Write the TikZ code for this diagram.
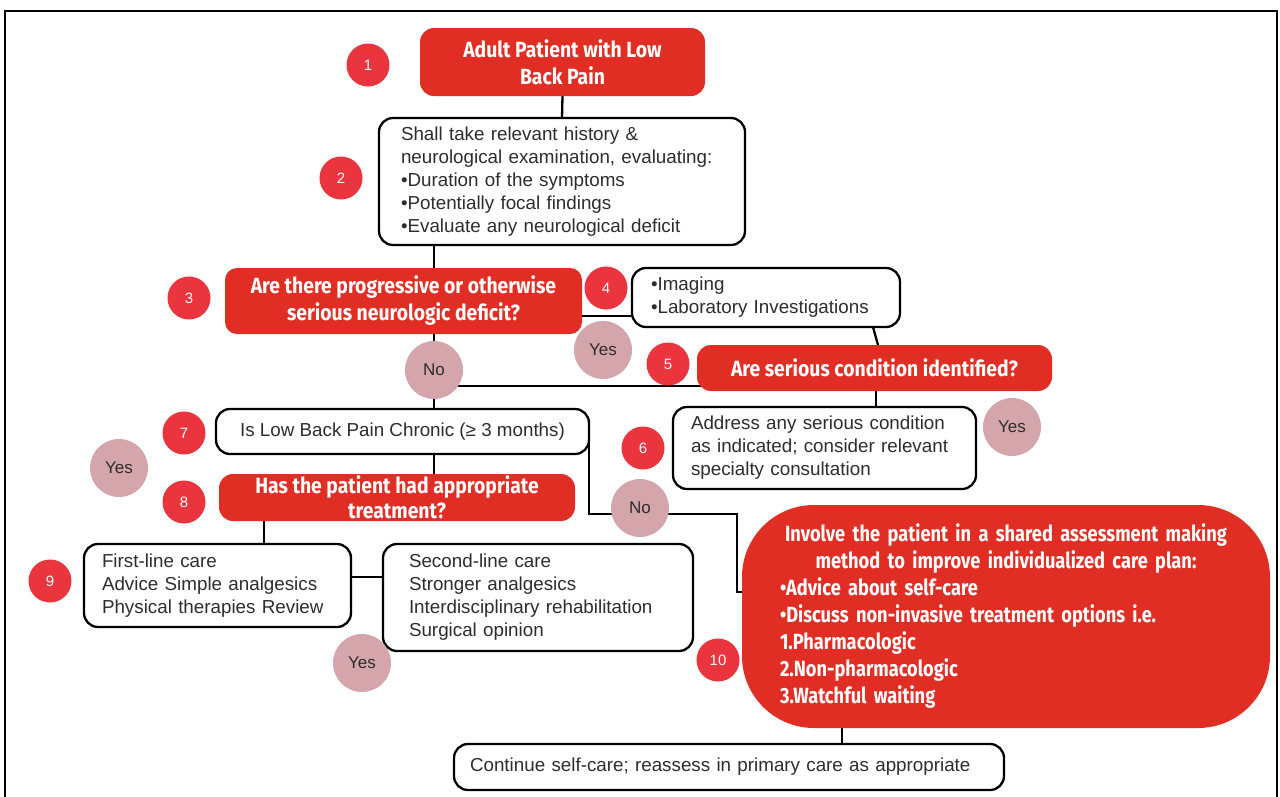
\documentclass[tikz,border=0pt]{standalone}
\usepackage{fontspec}
\setmainfont{Liberation Sans}
\newfontfamily\headfont[FakeStretch=0.88]{Fira Sans}
\newfontfamily\planfont[FakeStretch=0.83]{Fira Sans}
\pgfdeclarelayer{bg}
\pgfsetlayers{bg,main}

\definecolor{boxred}{RGB}{224,46,36}
\definecolor{badgered}{RGB}{234,52,62}
\definecolor{pinkc}{RGB}{212,165,170}
\definecolor{bodytext}{RGB}{45,45,45}

\begin{document}
\begin{tikzpicture}[x=1pt,y=-1pt,
  every node/.style={inner sep=0pt, outer sep=0pt},
  whitebox/.style={draw=black, line width=2.3pt, fill=white, rounded corners=14pt,
    text=bodytext, font=\fontsize{18.8}{23}\selectfont},
  redbox/.style={fill=boxred, rounded corners=14pt, text=white,
    font=\headfont\bfseries\fontsize{22}{27}\selectfont, align=center},
  badge/.style={circle, minimum size=43pt, fill=badgered, text=white,
    font=\fontsize{15}{15}\selectfont},
  answer/.style={circle, fill=pinkc, minimum size=58pt, text=bodytext,
    font=\fontsize{17}{17}\selectfont},
  link/.style={draw=black, line width=2.3pt}
]
\useasboundingbox (0,0) rectangle (1280,796);

% boxes
\node[redbox, minimum width=285pt, minimum height=68pt] (n1) at (562.5,62)
  {Adult Patient with Low\\Back Pain};
\node[whitebox, minimum width=366pt, minimum height=127pt, text width=322pt, align=left] (n2) at (562,181.5)
  {Shall take relevant history \&\\neurological examination, evaluating:\\•Duration of the symptoms\\•Potentially focal findings\\•Evaluate any neurological deficit};
\node[redbox, minimum width=357pt, minimum height=66pt, rounded corners=12pt] (n3) at (403.5,301)
  {Are there progressive or otherwise\\serious neurologic deficit?};
\node[whitebox, minimum width=268pt, minimum height=59pt, text width=230pt, align=left] (n4) at (766,297.5)
  {•Imaging\\•Laboratory Investigations};
\node[redbox, minimum width=355pt, minimum height=46pt] (n5) at (874.5,368)
  {Are serious condition identified?};
\node[whitebox, minimum width=303pt, minimum height=82pt, text width=267pt, align=left] (n6) at (824.5,448)
  {Address any serious condition\\as indicated; consider relevant\\specialty consultation};
\node[whitebox, minimum width=373pt, minimum height=45pt, align=center] (n7) at (402.5,431.5)
  {Is Low Back Pain Chronic (≥ 3 months)};
\node[redbox, minimum width=356pt, minimum height=47pt, font=\headfont\bfseries\fontsize{22}{25}\selectfont] (n8) at (397,497.5)
  {Has the patient had appropriate\\treatment?};
\node[whitebox, minimum width=267pt, minimum height=83pt, text width=231pt, align=left] (n9) at (217.5,585.5)
  {First-line care\\Advice Simple analgesics\\Physical therapies Review};
\node[whitebox, minimum width=310pt, minimum height=107pt, text width=258pt, align=left] (n9b) at (538,597.5)
  {Second-line care\\Stronger analgesics\\Interdisciplinary rehabilitation\\Surgical opinion};
\node[redbox, minimum width=528pt, minimum height=223pt, rounded corners=72pt, text width=452pt, align=left,
      font=\planfont\bfseries\fontsize{22}{27}\selectfont] (n10) at (1006,616.5)
  {\makebox[\linewidth][c]{Involve the patient in a shared assessment making}\\
   \makebox[\linewidth][c]{method to improve individualized care plan:}\\
   •Advice about self-care\\
   •Discuss non-invasive treatment options i.e.\\
   1.Pharmacologic\\
   2.Non-pharmacologic\\
   3.Watchful waiting};
\node[whitebox, minimum width=550pt, minimum height=46pt, text width=518pt, align=left] (n11) at (729,767)
  {Continue self-care; reassess in primary care as appropriate};

% connectors, drawn underneath the boxes
\coordinate (spine) at (434,0);
\coordinate (y34) at (0,316);
\coordinate (c4a) at (873,0);
\coordinate (c5a) at (878,0);
\coordinate (y5) at (0,386);
\coordinate (x56) at (876,0);
\coordinate (j1) at (589,514);
\coordinate (j2) at (737,592);
\coordinate (x89) at (264,0);
\coordinate (y99) at (0,577);
\coordinate (x1011) at (842,0);
\begin{pgfonlayer}{bg}
\fill[white] (0,0) rectangle (1280,796);
\draw[line width=2.5pt] (5,805) -- (5,11) -- (1277,11) -- (1277,805);
\draw[link] (n1.south) -- (n2.north);
\draw[link] (spine |- n2.south) -- (spine |- n3.north);
\draw[link] (spine |- n3.south) -- (spine |- n7.north);
\draw[link] (n3.east |- y34) -- (n4.west |- y34);
\draw[link] (c4a |- n4.south) -- (c5a |- n5.north);
\draw[link] (spine |- y5) -- (n5 |- y5);
\draw[link] (x56 |- n5.south) -- (x56 |- n6.north);
\draw[link] (spine |- n7.south) -- (spine |- n8.north);
\draw[link] (n7.east) -- (n7.east |- j1) -- (j1) -- (j1 -| j2) -- (j2) -- (n10 |- j2);
\draw[link] (x89 |- n8.south) -- (x89 |- n9.north);
\draw[link] (n9.east |- y99) -- (n9b.west |- y99);
\draw[link] (x1011 |- n10.south) -- (x1011 |- n11.north);
\end{pgfonlayer}

% step numbers
\node[badge] (b1) at (368,65) {1};
\node[badge] (b2) at (341,178) {2};
\node[badge] (b3) at (189,298) {3};
\node[badge] (b4) at (606,288) {4};
\node[badge] (b5) at (668,364) {5};
\node[badge] (b6) at (643,448) {6};
\node[badge] (b7) at (184,433) {7};
\node[badge] (b8) at (184,502) {8};
\node[badge] (b9) at (50,581) {9};
\node[badge] (b10) at (718,660) {10};

% answers
\node[answer] (a1) at (603,350) {Yes};
\node[answer] (a2) at (434,370) {No};
\node[answer] (a3) at (1012,427) {Yes};
\node[answer] (a4) at (119,468) {Yes};
\node[answer] (a5) at (640,508) {No};
\node[answer] (a6) at (362,663) {Yes};
\end{tikzpicture}
\end{document}
